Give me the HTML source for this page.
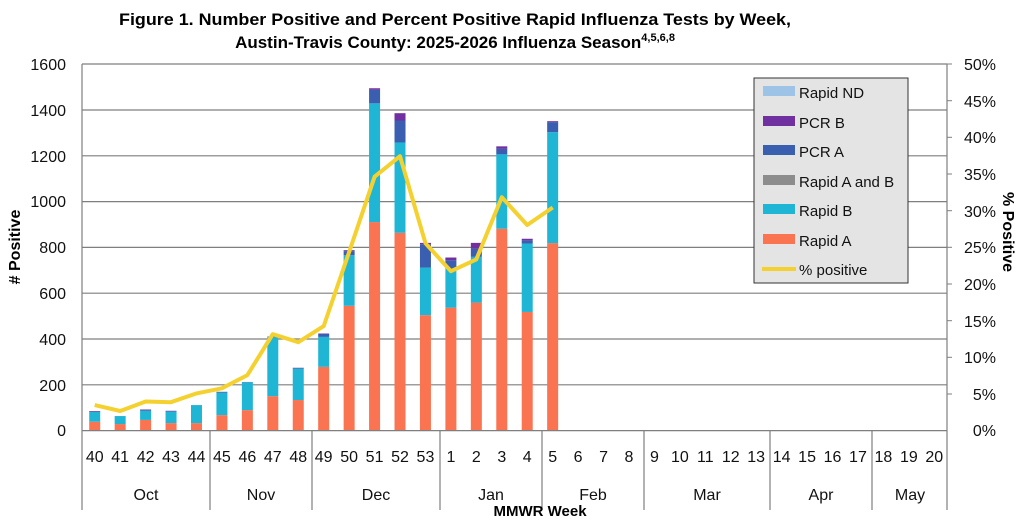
<!DOCTYPE html>
<html><head><meta charset="utf-8"><style>
html,body{margin:0;padding:0;background:#fff;}
svg{display:block;font-family:"Liberation Sans",sans-serif;}
</style></head><body>
<svg id="s" width="1024" height="528" viewBox="0 0 1024 528" xmlns="http://www.w3.org/2000/svg">
<text x="455" y="25" text-anchor="middle" font-size="17" font-weight="bold" textLength="672" lengthAdjust="spacingAndGlyphs">Figure 1. Number Positive and Percent Positive Rapid Influenza Tests by Week,</text>
<text x="455" y="48" text-anchor="middle" font-size="17" font-weight="bold">Austin-Travis County:  2025-2026 Influenza Season<tspan font-size="11" dy="-7">4,5,6,8</tspan></text>
<g stroke="#7f7f7f" stroke-width="1.2">
<line x1="82" y1="64" x2="947" y2="64"/><line x1="82" y1="110" x2="947" y2="110"/><line x1="82" y1="155.8" x2="947" y2="155.8"/><line x1="82" y1="201.6" x2="947" y2="201.6"/><line x1="82" y1="247.4" x2="947" y2="247.4"/><line x1="82" y1="293.2" x2="947" y2="293.2"/><line x1="82" y1="339" x2="947" y2="339"/><line x1="82" y1="384.8" x2="947" y2="384.8"/>
<line x1="82" y1="64" x2="82" y2="510"/><line x1="947" y1="64" x2="947" y2="430"/>
<line x1="210" y1="430" x2="210" y2="510"/><line x1="312" y1="430" x2="312" y2="510"/><line x1="440" y1="430" x2="440" y2="510"/><line x1="542" y1="430" x2="542" y2="510"/><line x1="644" y1="430" x2="644" y2="510"/><line x1="770" y1="430" x2="770" y2="510"/><line x1="872" y1="430" x2="872" y2="510"/><line x1="947" y1="430" x2="947" y2="510"/>
</g>
<g id="bars"></g>
<line x1="82" y1="430.6" x2="947" y2="430.6" stroke="#7f7f7f" stroke-width="1.2"/>
<polyline id="pl" fill="none" stroke="#f5d130" stroke-width="4" stroke-linejoin="round"/>
<g font-size="16" text-anchor="end" fill="#111">
<text x="66" y="70">1600</text><text x="66" y="116">1400</text><text x="66" y="162">1200</text><text x="66" y="207">1000</text><text x="66" y="253">800</text><text x="66" y="299">600</text><text x="66" y="345">400</text><text x="66" y="391">200</text><text x="66" y="436">0</text>
</g>
<g font-size="16" text-anchor="end" fill="#111">
<text x="996" y="70">50%</text><text x="996" y="107">45%</text><text x="996" y="143">40%</text><text x="996" y="180">35%</text><text x="996" y="217">30%</text><text x="996" y="253">25%</text><text x="996" y="290">20%</text><text x="996" y="327">15%</text><text x="996" y="363">10%</text><text x="996" y="400">5%</text><text x="996" y="436">0%</text>
</g>
<g stroke="#7f7f7f"><line x1="947" y1="64" x2="952" y2="64"/><line x1="947" y1="100.7" x2="952" y2="100.7"/><line x1="947" y1="137.3" x2="952" y2="137.3"/><line x1="947" y1="174" x2="952" y2="174"/><line x1="947" y1="210.7" x2="952" y2="210.7"/><line x1="947" y1="247.3" x2="952" y2="247.3"/><line x1="947" y1="284" x2="952" y2="284"/><line x1="947" y1="320.7" x2="952" y2="320.7"/><line x1="947" y1="357.3" x2="952" y2="357.3"/><line x1="947" y1="394" x2="952" y2="394"/></g>
<text transform="translate(20,247) rotate(-90)" text-anchor="middle" font-size="16" font-weight="bold"># Positive</text>
<text transform="translate(1003,232) rotate(90)" text-anchor="middle" font-size="16" font-weight="bold">% Positive</text>
<g id="cats" font-size="16" text-anchor="middle" fill="#111"></g>
<g font-size="16" text-anchor="middle" fill="#111">
<text x="146" y="500">Oct</text><text x="261" y="500">Nov</text><text x="376" y="500">Dec</text><text x="491" y="500">Jan</text><text x="593" y="500">Feb</text><text x="707" y="500">Mar</text><text x="821" y="500">Apr</text><text x="910" y="500">May</text>
</g>
<text x="540" y="516" text-anchor="middle" font-size="15" font-weight="bold">MMWR Week</text>
<rect x="754" y="78" width="154" height="205" fill="#e4e4e4" stroke="#333" stroke-width="1"/>
<g font-size="15" fill="#111">
<rect x="763" y="86" width="32" height="10" fill="#9dc3e6"/><text x="799" y="98">Rapid ND</text>
<rect x="763" y="116" width="32" height="10" fill="#7030a0"/><text x="799" y="128">PCR B</text>
<rect x="763" y="145" width="32" height="10" fill="#3a5fb0"/><text x="799" y="157">PCR A</text>
<rect x="763" y="175" width="32" height="10" fill="#8c8c8c"/><text x="799" y="187">Rapid A and B</text>
<rect x="763" y="204" width="32" height="10" fill="#1fb6d6"/><text x="799" y="216">Rapid B</text>
<rect x="763" y="234" width="32" height="10" fill="#fa7452"/><text x="799" y="246">Rapid A</text>
<line x1="762" y1="269" x2="796" y2="269" stroke="#f5d130" stroke-width="4"/><text x="799" y="275">% positive</text>
</g>
<script>
var ns="http://www.w3.org/2000/svg";
var x0=82,w=(947-82)/34,y0=430,k=366/1600;
var weeks=[40,41,42,43,44,45,46,47,48,49,50,51,52,53,1,2,3,4,5,6,7,8,9,10,11,12,13,14,15,16,17,18,19,20];
var cats=document.getElementById('cats');
weeks.forEach(function(v,i){var t=document.createElementNS(ns,'text');t.setAttribute('x',x0+w*(i+.5));t.setAttribute('y',462);t.textContent=v;cats.appendChild(t);});
var d=[[36,80,80,83],[26,61,61,61],[44,84,88,90],[30,80,83,84],[30,109,109,109],[65,163,167,167],[87,209,209,210],[148,407,409,409],[131,268,271,272],[276,407,420,422],[543,764,782,786],[909,1428,1487,1494],[862,1257,1353,1385],[502,710,812,818],[535,706,742,754],[557,757,793,818],[880,1205,1229,1240],[516,815,829,836],[817,1302,1346,1350]];
var cols=['#fa7452','#1fb6d6','#3a5fb0','#7030a0'];
var g=document.getElementById('bars');
d.forEach(function(r,i){var prev=0;r.forEach(function(v,j){if(v>prev){var e=document.createElementNS(ns,'rect');var cx=x0+w*(i+.5);e.setAttribute('x',cx-5.5);e.setAttribute('width',11);e.setAttribute('y',y0-v*k);e.setAttribute('height',(v-prev)*k);e.setAttribute('fill',cols[j]);g.appendChild(e);}prev=Math.max(prev,v);});});
var p=[3.4,2.6,3.9,3.8,5.0,5.7,7.5,13.1,12.0,14.2,24.3,34.6,37.4,25.5,21.7,23.3,31.8,28.0,30.4];
document.getElementById('pl').setAttribute('points',p.map(function(v,i){return (x0+w*(i+.5)).toFixed(1)+','+(y0-v/50*366).toFixed(1);}).join(' '));
</script>
</svg>
</body></html>
